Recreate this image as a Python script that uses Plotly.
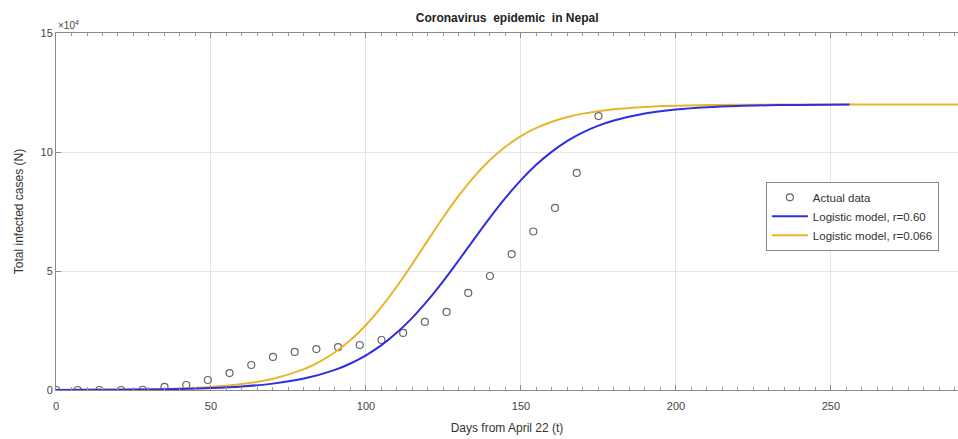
import plotly.graph_objects as go

# Actual data (weekly, days from April 22)
data_days = [0, 7, 14, 21, 28, 35, 42, 49, 56, 63, 70, 77, 84, 91, 98, 105,
             112, 119, 126, 133, 140, 147, 154, 161, 168, 175]
data_cases = [0, 0, 0, 0, 100, 1300, 2100, 4200, 7100, 10500, 13900, 16000, 17200,
              18000, 18900, 21000, 24000, 28600, 32800, 40800, 47900, 57100,
              66600, 76500, 91200, 115100]

# Logistic model, r=0.60
blue_days = [0, 10, 20, 30, 40, 50, 60, 70, 80, 90, 95, 100, 105, 110, 115, 120,
             125, 130, 135, 140, 145, 150, 155, 160, 165, 170, 175, 180, 190,
             200, 210, 220, 230, 240, 256]
blue_cases = [41, 75, 136, 248, 452, 820, 1485, 2678, 4790, 8450, 11130, 14560,
              18840, 24140, 30420, 37730, 45870, 54610, 63600, 72420, 80700,
              88200, 94710, 100170, 104660, 108240, 111060, 113250, 116200,
              117880, 118830, 119360, 119640, 119800, 119920]

# Logistic model, r=0.066
yellow_days = [0, 10, 20, 30, 40, 50, 60, 70, 80, 85, 90, 95, 100, 105, 110, 115,
               120, 125, 130, 135, 140, 145, 150, 155, 160, 165, 170, 180, 190,
               200, 210, 220, 240, 260, 291]
yellow_cases = [48, 93, 180, 348, 670, 1292, 2474, 4695, 8765, 11850, 15870, 20990,
                27330, 34910, 43600, 53100, 62960, 72680, 81740, 89780, 96610,
                102210, 106670, 110100, 112720, 114670, 116120, 117960, 118940,
                119450, 119720, 119850, 119960, 119990, 120000]

y_tickvals = [0, 50000, 100000, 150000]
y_ticktext = ["0", "5", "10", "15"]
x_tickvals = [0, 50, 100, 150, 200, 250]

FONT = "Liberation Sans, Arial, sans-serif"
BLUE = "#2E2EE0"
YELLOW = "#E8B52A"

fig = go.Figure()
fig.add_trace(go.Scatter(
    x=data_days, y=data_cases, mode="markers", name="Actual data",
    marker=dict(symbol="circle-open", size=7, color="#666666", line=dict(width=1.2)),
))
fig.add_trace(go.Scatter(
    x=yellow_days, y=yellow_cases, mode="lines", name="Logistic model, r=0.066",
    line=dict(color=YELLOW, width=2, shape="spline"), showlegend=False,
))
fig.add_trace(go.Scatter(
    x=blue_days, y=blue_cases, mode="lines", name="Logistic model, r=0.60",
    line=dict(color=BLUE, width=2, shape="spline"),
))
# legend entry for yellow (ordering: data, blue, yellow)
fig.add_trace(go.Scatter(
    x=[None], y=[None], mode="lines", name="Logistic model, r=0.066",
    line=dict(color=YELLOW, width=2),
))

fig.update_layout(
    width=958, height=439,
    margin=dict(l=56, r=0, t=33, b=49),
    paper_bgcolor="white", plot_bgcolor="white",
    font=dict(family=FONT, size=11, color="#333333"),
    title=dict(text="<b>Coronavirus  epidemic  in Nepal</b>", x=0.5294, xanchor="center",
               y=0.96, yanchor="middle", font=dict(size=12, color="#222222")),
    legend=dict(x=0.787, y=0.583, xanchor="left", yanchor="top",
                bordercolor="#888888", borderwidth=1, bgcolor="white",
                font=dict(size=11.5, color="#333333"), tracegroupgap=0,
                itemwidth=36),
    showlegend=True,
)
fig.update_xaxes(
    range=[0, 291], tickvals=x_tickvals, showgrid=True, gridcolor="#e4e4e4",
    zeroline=False, showline=True, linecolor="#8a8a8a", linewidth=1,
    mirror="ticks", ticks="inside", ticklen=5, tickcolor="#8a8a8a",
    minor=dict(dtick=5, ticks="inside", ticklen=3, tickcolor="#9a9a9a", showgrid=False),
    title=dict(text="Days from April 22 (t)", font=dict(size=12, color="#333333"), standoff=12),
    tickfont=dict(size=11, color="#444444"), ticklabelstandoff=6, color="#444444",
)
fig.update_yaxes(
    range=[0, 150000], tickvals=y_tickvals, ticktext=y_ticktext, showgrid=True,
    gridcolor="#e4e4e4", zeroline=False, showline=True, linecolor="#8a8a8a", linewidth=1,
    ticks="inside", ticklen=5, tickcolor="#8a8a8a",
    title=dict(text="Total infected cases (N)", font=dict(size=12, color="#333333"), standoff=14),
    tickfont=dict(size=11, color="#444444"), color="#444444",
)
fig.add_annotation(
    text="×10<sup>4</sup>", xref="paper", yref="paper", x=0.0, y=1.0,
    xanchor="left", yanchor="bottom", showarrow=False,
    font=dict(size=10, color="#444444"),
)

fig.write_html("out.html")
